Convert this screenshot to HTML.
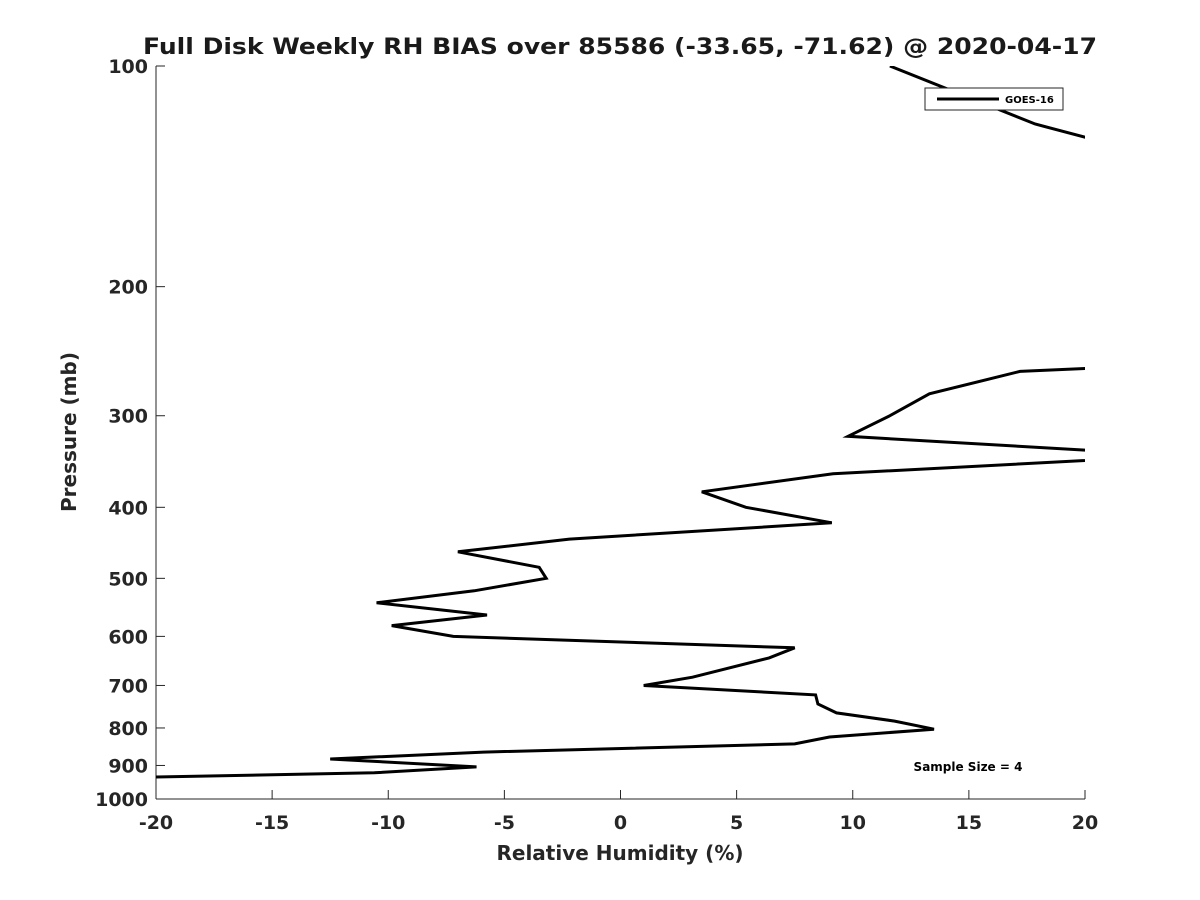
<!DOCTYPE html>
<html><head><meta charset="utf-8"><style>
body{margin:0;background:#fff;}
svg{display:block;font-family:"DejaVu Sans","Liberation Sans",sans-serif;}
</style></head><body>
<svg id="chart" width="1200" height="900" viewBox="0 0 1200 900">
<defs><clipPath id="plotclip"><rect x="156" y="66" width="929" height="733"/></clipPath></defs>
<text x="620" y="54" text-anchor="middle" font-size="22" font-weight="bold" fill="#1a1a1a" textLength="954" lengthAdjust="spacingAndGlyphs">Full Disk Weekly RH BIAS over 85586 (-33.65, -71.62) @ 2020-04-17</text>
<g id="axes"></g>
<g id="series" clip-path="url(#plotclip)"></g>
<text x="620" y="860" text-anchor="middle" font-size="20" font-weight="bold" fill="#262626">Relative Humidity (%)</text>
<text transform="translate(76,432) rotate(-90)" text-anchor="middle" font-size="20" font-weight="bold" fill="#262626">Pressure (mb)</text>
<g>
<rect x="925" y="88" width="138" height="22" fill="#fff" stroke="#262626" stroke-width="1"/>
<line x1="937" y1="99" x2="999" y2="99" stroke="#000" stroke-width="3"/>
<text x="1005" y="103" font-size="10" font-weight="bold" fill="#000">GOES-16</text>
</g>
<text x="968" y="771" text-anchor="middle" font-size="12" font-weight="bold" fill="#000">Sample Size = 4</text>
</svg>
<script>
const rhBias=[11.6,17.85,22,22,17.2,13.3,11.6,9.8,24,9.15,3.5,5.4,9.1,-2.2,-7.0,-3.5,-3.2,-6.3,-10.5,-5.75,-9.85,-7.2,7.5,6.4,3.1,1.0,8.4,8.5,9.3,11.8,13.5,9.0,7.5,-5.9,-12.5,-6.2,-10.6,-25];
const pressures=[100,120,130,257,261,280,300,320,340,360,381,400,420,442,460,483,500,520,540,561,580,600,622,642,682,700,721,742,763,783,803,823,841,863,882,904,921,940];
const xTicks=[-20,-15,-10,-5,0,5,10,15,20];
const yTicks=[100,200,300,400,500,600,700,800,900,1000];
const X0=156,X1=1085,Y0=66,Y1=799;
const xs=v=>X0+(v+20)/40*(X1-X0);
const ys=p=>Y0+Math.log10(p/100)*(Y1-Y0);
const NS="http://www.w3.org/2000/svg";
const ax=document.getElementById('axes');
function mk(t,a,par){const e=document.createElementNS(NS,t);for(const k in a)e.setAttribute(k,a[k]);par.appendChild(e);return e;}
const xl=mk('line',{x1:X0,y1:Y1,x2:X1,y2:Y1,stroke:'#262626','stroke-width':1},ax);


const yl=mk('line',{x1:X0,y1:Y0,x2:X0,y2:Y1,stroke:'#262626','stroke-width':1},ax);


xTicks.forEach(v=>{
 const x=xs(v);
 mk('line',{x1:x,y1:Y1,x2:x,y2:Y1-9,stroke:'#262626'},ax);
 const t=mk('text',{x:x,y:829,'text-anchor':'middle','font-size':19,'font-weight':'bold',fill:'#262626'},ax);
 t.textContent=v;
 
 
});
yTicks.forEach(p=>{
 const y=ys(p);
 mk('line',{x1:X0,y1:y,x2:X0+9,y2:y,stroke:'#262626'},ax);
 const t=mk('text',{x:148,y:y+7,'text-anchor':'end','font-size':19,'font-weight':'bold',fill:'#262626'},ax);
 t.textContent=p;
 
 
});
const pts=rhBias.map((v,i)=>xs(v).toFixed(1)+','+ys(pressures[i]).toFixed(1)).join(' ');
const pl=mk('polyline',{points:pts,fill:'none',stroke:'#000','stroke-width':3,'stroke-linejoin':'miter'},document.getElementById('series'));


</script>
</body></html>
